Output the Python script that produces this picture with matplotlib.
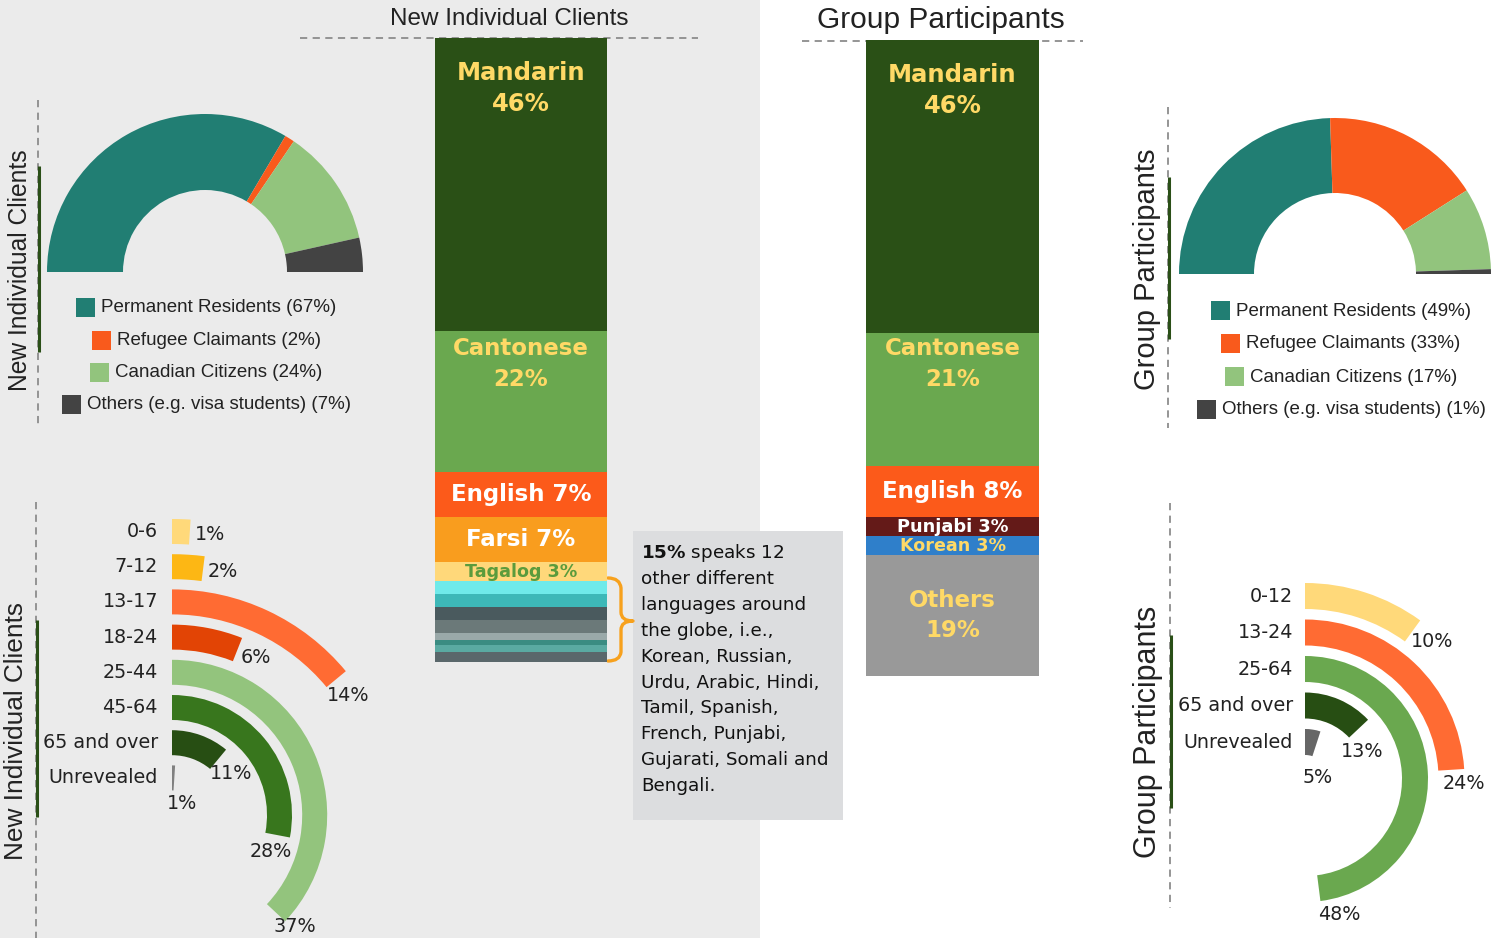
import numpy as np
import matplotlib
matplotlib.use('Agg')
import matplotlib.pyplot as plt
from matplotlib.patches import Rectangle, PathPatch
from matplotlib.path import Path

W, H = 1504, 938

# ---------------- data ----------------
lang_left_vals = [47.0, 22.6, 7.2, 7.2, 3.0]
lang_left_text = ['Mandarin\n46%', 'Cantonese\n22%', 'English 7%', 'Farsi 7%', 'Tagalog 3%']
other_left_vals = [2.1, 2.1, 2.1, 2.1, 1.0, 0.9, 1.1, 1.6]   # 12 other languages (15%)

lang_right_vals = [46, 21, 8, 3, 3, 19]
lang_right_text = ['Mandarin\n46%', 'Cantonese\n21%', 'English 8%', 'Punjabi 3%', 'Korean 3%', 'Others\n19%']

status_labels = ['Permanent Residents', 'Refugee Claimants', 'Canadian Citizens',
                 'Others (e.g. visa students)']
status_left = [67, 2, 24, 7]
status_right = [49, 33, 17, 1]

age_left = ['0-6', '7-12', '13-17', '18-24', '25-44', '45-64', '65 and over', 'Unrevealed']
age_left_vals = [1, 2, 14, 6, 37, 28, 11, 1]
age_right = ['0-12', '13-24', '25-64', '65 and over', 'Unrevealed']
age_right_vals = [10, 24, 48, 13, 5]

callout_lines = [r'$\mathbf{15\%}$ speaks 12', 'other different', 'languages around',
                 'the globe, i.e.,', 'Korean, Russian,', 'Urdu, Arabic, Hindi,',
                 'Tamil, Spanish,', 'French, Punjabi,', 'Gujarati, Somali and', 'Bengali.']

# ---------------- styles ----------------
c_lang_left = ['#2A5016', '#6AA84F', '#FC5A1A', '#F99D1E', '#FFD87A']
c_other_left = ['#6FEAEA', '#3DB8B8', '#4A5A5E', '#6B7979', '#9AA9A9', '#3A8C82', '#5AAAA2', '#5A676B']
c_lang_right = ['#2A5016', '#6AA84F', '#FC5A1A', '#641A18', '#2F7FCA', '#999999']
t_lang_left = ['#FFD966', '#FFD966', 'white', 'white', '#5B9B3C']
t_lang_right = ['#FFD966', '#FFD966', 'white', 'white', '#FFD966', '#FFD966']
fs_lang_left = [17.5, 16.5, 16.5, 16.5, 12.6]
fs_lang_right = [17.5, 16.5, 16.5, 12.8, 12.6, 16.5]
mode_left = ['top', 'top', 'center', 'center', 'center']
mode_right = ['top', 'top', 'center', 'center', 'center', 'center']
c_status = ['#217E73', '#F95A1C', '#92C47D', '#434343']
c_age_left = ['#FFD97A', '#FDB714', '#FF6B33', '#E24405', '#93C47D', '#38761D', '#274E13', '#808080']
c_age_right = ['#FFD97A', '#FF6B33', '#6AA84F', '#274E13', '#666666']

TXT = '#222222'
ARIAL = 'Liberation Sans'

fig = plt.figure(figsize=(W / 100, H / 100), dpi=100)
fig.patch.set_facecolor('white')


def px_axes(x0, y0, x1, y1, **kw):
    return fig.add_axes([x0 / W, 1 - y1 / H, (x1 - x0) / W, (y1 - y0) / H], **kw)


# overlay in pixel coordinates for decorations
ov = px_axes(0, 0, W, H)
ov.set_xlim(0, W)
ov.set_ylim(H, 0)
ov.axis('off')
ov.add_patch(Rectangle((0, 0), 760, H, color='#EBEBEB', lw=0, zorder=0))

# headers
ov.text(509, 19, 'New Individual Clients', ha='center', va='center', fontsize=17.5,
        family=ARIAL, color=TXT)
ov.text(941, 20, 'Group Participants', ha='center', va='center', fontsize=21.5,
        family=ARIAL, color=TXT)
dash = dict(color='#8C8C8C', lw=1.3, linestyle=(0, (4, 3)))
ov.plot([300, 698], [38, 38], **dash)
ov.plot([802, 1083], [41, 41], **dash)

# side labels with dashed guides
sides = [(38, 100, 427, 166, 352, 20, 270, 'New Individual Clients', 17.7),
         (36, 502, 938, 620, 817, 16, 731, 'New Individual Clients', 18.9),
         (1168, 107, 428, 177, 339, 1147, 269, 'Group Participants', 21),
         (1170, 503, 908, 635, 808, 1148, 732, 'Group Participants', 22)]
for x, ya, yb, ga, gb, tx, ty, lab, fs in sides:
    ov.plot([x, x], [ya, yb], **dash)
    ov.plot([x + 1, x + 1], [ga, gb], color='#2A4F17', lw=2.2, solid_capstyle='butt')
    ov.text(tx, ty, lab, rotation=90, ha='center', va='center', fontsize=fs,
            family=ARIAL, color=TXT)

# callout box
ov.add_patch(Rectangle((633, 531), 210, 289, color='#DCDDDF', lw=0))
for k, line in enumerate(callout_lines):
    ov.text(641, 552 + 25.8 * k + 6.5, line, ha='left', va='baseline', fontsize=13.2,
            family='DejaVu Sans', color='#111111')

# brace
verts = [(608, 578), (620, 578), (621, 588), (621, 612), (621, 621), (633, 621),
         (621, 621), (621, 630), (621, 652), (620, 661), (608, 661)]
codes = [Path.MOVETO, Path.CURVE3, Path.CURVE3, Path.LINETO, Path.CURVE3, Path.CURVE3,
         Path.CURVE3, Path.CURVE3, Path.LINETO, Path.CURVE3, Path.CURVE3]
ov.add_patch(PathPatch(Path(verts, codes), fill=False, edgecolor='#F7A11D', lw=2.4,
                       capstyle='round', joinstyle='round'))

renderer = fig.canvas.get_renderer()


def legend_rows(cx, y0, dy, vals):
    for i, (lab, v) in enumerate(zip(status_labels, vals)):
        y = y0 + i * dy
        t = ov.text(0, y, f'{lab} ({v}%)', ha='left', va='center', fontsize=13.5,
                    family=ARIAL, color=TXT)
        w = t.get_window_extent(renderer).width
        x0 = cx - (19 + 6 + w) / 2
        t.set_x(x0 + 25)
        ov.add_patch(Rectangle((x0, y - 9.5), 19, 19, color=c_status[i], lw=0))


legend_rows(206.5, 308, 32.3, status_left)
legend_rows(1341, 311, 33, status_right)


def stacked(x0, y0, x1, y1, vals, colors, texts, tcolors, fsizes, modes):
    ax = px_axes(x0, y0, x1, y1)
    vals = np.asarray(vals, float)
    bottoms = np.concatenate([[0], np.cumsum(vals)[:-1]])
    ax.bar(np.zeros(len(vals)), vals, bottom=bottoms, width=1, color=colors, linewidth=0)
    total = vals.sum()
    ax.set_xlim(-0.5, 0.5)
    ax.set_ylim(total, 0)
    ax.axis('off')
    scale = (y1 - y0) / total
    for i, txt in enumerate(texts):
        lines = txt.split('\n')
        seg = vals[i] * scale
        if modes[i] == 'top':
            offs = [0.12 * seg + 31 * k for k in range(len(lines))]
        else:
            offs = [seg / 2 + (k - (len(lines) - 1) / 2) * 30 for k in range(len(lines))]
        for line, off in zip(lines, offs):
            ax.annotate(line, xy=(0, bottoms[i]), xytext=(0, -off * 0.72),
                        textcoords='offset points', ha='center', va='center',
                        fontsize=fsizes[i], fontweight='bold', color=tcolors[i],
                        family='DejaVu Sans')
    return ax


stacked(435, 38, 607, 662, lang_left_vals + other_left_vals, c_lang_left + c_other_left,
        lang_left_text, t_lang_left, fs_lang_left, mode_left)
stacked(866, 40, 1039, 676, lang_right_vals, c_lang_right,
        lang_right_text, t_lang_right, fs_lang_right, mode_right)


def half_donut(cx, cy, r_out, r_in, vals):
    ax = px_axes(cx - r_out, cy - r_out, cx + r_out, cy + r_out)
    wedges, _ = ax.pie(list(vals) + [sum(vals)], colors=c_status + ['none'],
                       startangle=180, counterclock=False, radius=1,
                       wedgeprops=dict(width=(r_out - r_in) / r_out, linewidth=0))
    wedges[-1].set_visible(False)
    ax.set_xlim(-1, 1)
    ax.set_ylim(-1, 1)
    ax.axis('off')


half_donut(205, 272, 158, 82, status_left)
half_donut(1335, 274, 156, 81, status_right)


def radial(cx, cy, R, r_outer, step, width, vals, names, colors, dt, dr, name_off):
    ax = px_axes(cx - R, cy - R, cx + R, cy + R, projection='polar')
    ax.set_theta_zero_location('N')
    ax.set_theta_direction(-1)
    rc = r_outer - width / 2 - step * np.arange(len(vals))
    theta = np.asarray(vals) / 100 * 2 * np.pi
    ax.barh(rc, theta, left=0, height=width, color=colors, linewidth=0)
    ax.set_ylim(0, R)
    ax.set_axis_off()
    for i in range(len(vals)):
        ax.annotate(names[i], xy=(0, rc[i]), xytext=(-name_off * 0.72, 0),
                    textcoords='offset points', ha='right', va='center',
                    fontsize=13.8, color=TXT, family='DejaVu Sans')
        ax.text(theta[i] + dt[i] / rc[i], rc[i] + dr[i], f'{vals[i]}%', ha='center',
                va='center', fontsize=13.8, color=TXT, family='DejaVu Sans')


radial(172, 815, 300, 296, 35.2, 25, age_left_vals, age_left, c_age_left,
       [20, 20, 20, 20, -2, 18, 20, 25], [0, 0, 0, 0, 23, -2, 0, -22], 14)
radial(1305, 779, 200, 196, 36.5, 26, age_right_vals, age_right, c_age_right,
       [22, 13, -13, 23, 41], [4, 12, 30, -10, -24], 12)

fig.savefig('out.png', dpi=100)
